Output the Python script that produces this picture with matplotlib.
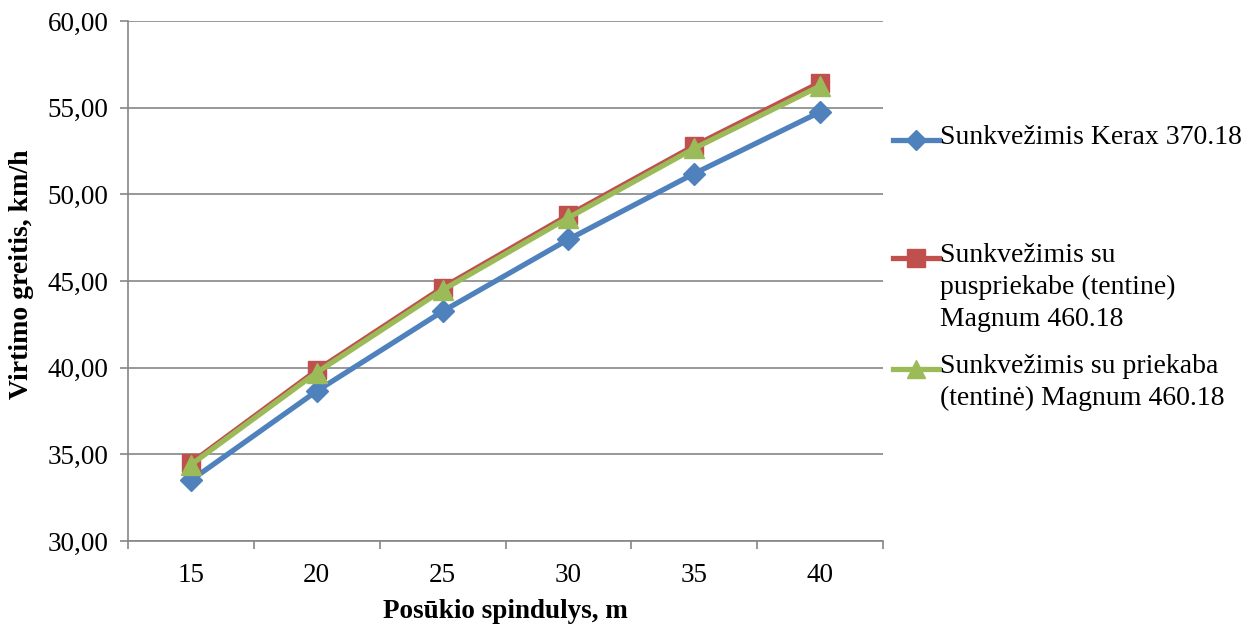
import numpy as np
import matplotlib
matplotlib.use("Agg")
import matplotlib.pyplot as plt
from matplotlib.lines import Line2D
from matplotlib.ticker import FixedLocator

#+++ Data
radius = ["15", "20", "25", "30", "35", "40"]
kerax = [33.50, 38.65, 43.25, 47.40, 51.20, 54.75]
semitrailer = [34.50, 39.85, 44.62, 48.80, 52.80, 56.45]
trailer = [34.40, 39.72, 44.48, 48.65, 52.65, 56.25]
labels = [
    "Sunkvežimis Kerax 370.18",
    "Sunkvežimis su\npuspriekabe (tentine)\nMagnum 460.18",
    "Sunkvežimis su priekaba\n(tentinė) Magnum 460.18",
]
yticks = [30, 35, 40, 45, 50, 55, 60]
#---

plt.rcParams["font.family"] = ["Liberation Serif", "DejaVu Serif"]

W, H = 1258, 628
fig = plt.figure(figsize=(W / 100, H / 100), dpi=100)
ax = fig.add_axes([128 / W, 1 - 541 / H, (883 - 128) / W, (541 - 21) / H])

x = np.arange(len(radius))
series = [
    (kerax, "#4F81BD", "D", 11),
    (semitrailer, "#C0504D", "s", 13),
    (trailer, "#9BBB59", "^", 14),
]
for (vals, color, marker, ms), lab in zip(series, labels):
    ax.plot(x, vals, color=color, lw=3.8, marker=marker, ms=ms, label=lab, zorder=3)

ax.set_xlim(-0.5, len(radius) - 0.5)
ax.set_ylim(30, 60)
ax.set_yticks(yticks)
ax.set_yticklabels([f"{v:.2f}".replace(".", ",") for v in yticks], fontsize=19.5)
ax.set_xticks(x)
ax.set_xticklabels(radius, fontsize=19.5)
ax.xaxis.set_minor_locator(FixedLocator(np.arange(-0.5, len(radius), 1.0)))
ax.tick_params(axis="x", which="major", length=0, pad=16)
ax.tick_params(axis="x", which="minor", length=6, width=1.2, color="#868686", direction="out")
ax.tick_params(axis="y", length=6, width=1.2, color="#868686", direction="out", pad=8)
ax.grid(axis="y", color="#868686", lw=1.2, zorder=0)
for side in ["top", "right"]:
    ax.spines[side].set_visible(False)
for side in ["left", "bottom"]:
    ax.spines[side].set_color("#868686")
    ax.spines[side].set_linewidth(1.2)

ax.set_xlabel("Posūkio spindulys, m", fontsize=19.5, fontweight="bold", va="center")
ax.xaxis.set_label_coords(0.5, (541 - 612) / 520)
ax.set_ylabel("Virtimo greitis, km/h", fontsize=20, fontweight="bold", va="center")
ax.yaxis.set_label_coords((22 - 128) / 755, (541 - 274) / 520)

#+++ Legend (handle aligned with first text line, as in Excel)
leg_y = [140, 258, 369]
for (vals, color, marker, ms), lab, yy in zip(series, labels, leg_y):
    fig.add_artist(Line2D([893 / W, 939 / W], [1 - yy / H] * 2, color=color, lw=3.8,
                          transform=fig.transFigure))
    fig.add_artist(Line2D([916 / W], [1 - yy / H], color=color, marker=marker, ms=ms * 0.95,
                          transform=fig.transFigure))
    fig.text(940 / W, 1 - (yy - 15) / H, lab, fontsize=20, ha="left", va="top",
             linespacing=1.35, transform=fig.transFigure)
#---

fig.savefig("out.png", dpi=100)
